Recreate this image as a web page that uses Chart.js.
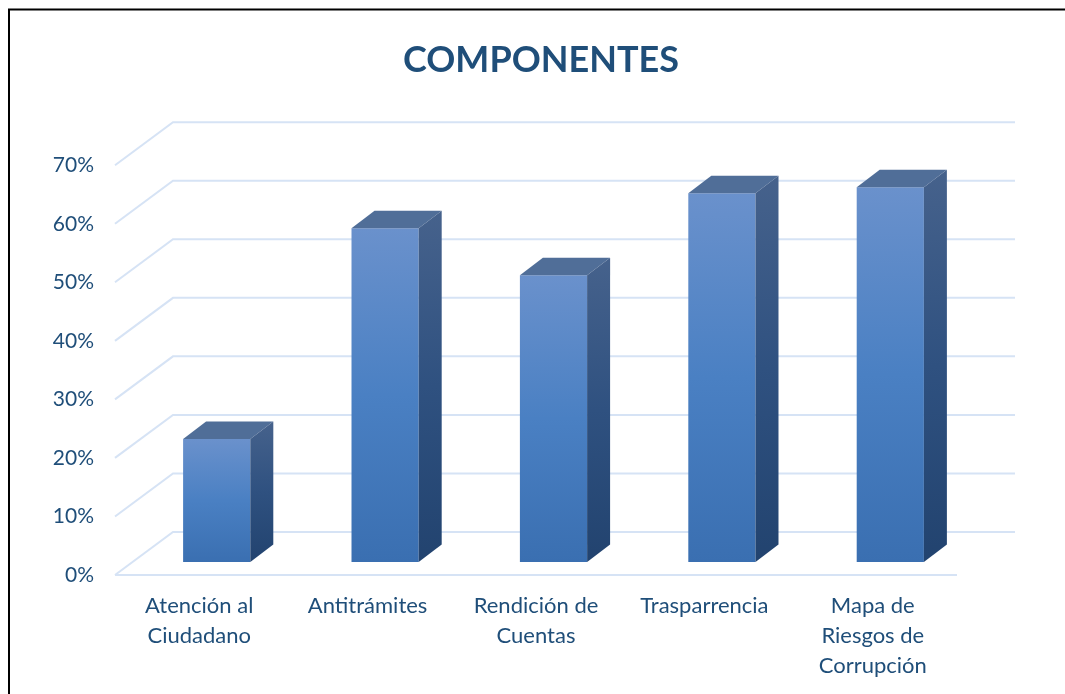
<!DOCTYPE html>
<html>
<head>
<meta charset="utf-8">
<style>html,body{margin:0;padding:0;background:#fff;overflow:hidden}canvas{display:block}</style>
<script src="https://cdn.jsdelivr.net/npm/chart.js@4/dist/chart.umd.js"></script>
</head>
<body>
<canvas id="c" width="1065" height="694"></canvas>
<script>
const categories = [["Atención al","Ciudadano"],"Antitrámites",["Rendición de","Cuentas"],"Trasparrencia",["Mapa de","Riesgos de","Corrupción"]];
const values = [0.21,0.57,0.49,0.63,0.64];
const titleText = "COMPONENTES";

const TEXT = "#1F4E79", GRID = "#D6E3F5";
const WALL = {dx:58, dy:43};      // depth of the chart floor
const BAR = {dx:23, dy:17.5, sx:17.5, sy:-13}; // bar depth and its shift from the floor front

function lin(ctx,y0,y1,stops){
  const g = ctx.createLinearGradient(0,y0,0,y1);
  stops.forEach((c,i)=>g.addColorStop(i/(stops.length-1),c));
  return g;
}

const depth3d = {
  id:"depth3d",
  afterLayout(chart){
    const t = chart.titleBlock;
    t.left = 17; t.right = 1065;
  },
  beforeDraw(chart){
    const c = chart.ctx;
    c.save();
    c.fillStyle="#fff"; c.fillRect(0,0,chart.width,chart.height);
    c.strokeStyle="#000"; c.lineWidth=2;
    c.beginPath(); c.moveTo(9,694); c.lineTo(9,9.5); c.lineTo(1065,9.5); c.stroke();
    c.restore();
  },
  beforeDatasetsDraw(chart){
    const c = chart.ctx, y = chart.scales.y, a = chart.chartArea;
    c.save();
    c.strokeStyle=GRID; c.lineWidth=2; c.lineJoin="miter";
    y.ticks.forEach(t=>{
      const p = y.getPixelForValue(t.value);
      c.beginPath();
      c.moveTo(a.left,p);
      c.lineTo(a.left+WALL.dx,p-WALL.dy);
      c.lineTo(a.right+WALL.dx,p-WALL.dy);
      c.stroke();
    });
    const p0 = y.getPixelForValue(0);
    c.beginPath(); c.moveTo(a.left,p0); c.lineTo(a.right,p0); c.stroke();
    c.restore();
  },
  beforeDatasetDraw(chart){
    chart.ctx.save();
    chart.ctx.translate(BAR.sx,BAR.sy);
  },
  afterDatasetDraw(chart,args){
    const c = chart.ctx;
    args.meta.data.forEach(b=>{
      const l=b.x-b.width/2, r=b.x+b.width/2, t=b.y, bt=b.base;
      // top face
      c.fillStyle="#506E98";
      c.beginPath(); c.moveTo(l,t); c.lineTo(l+BAR.dx,t-BAR.dy); c.lineTo(r+BAR.dx,t-BAR.dy); c.lineTo(r,t); c.closePath(); c.fill();
      // side face
      c.fillStyle=lin(c,t-BAR.dy,bt,["#46628C","#2F5180","#22436F"]);
      c.beginPath(); c.moveTo(r,t); c.lineTo(r+BAR.dx,t-BAR.dy); c.lineTo(r+BAR.dx,bt-BAR.dy); c.lineTo(r,bt); c.closePath(); c.fill();
    });
    c.restore();
  }
};

new Chart(document.getElementById("c"),{
  type:"bar",
  data:{labels:categories,datasets:[{
    data:values,
    backgroundColor(ctx){
      const ch=ctx.chart, y=ch.scales.y;
      if(!ch.chartArea||ctx.parsed==null) return "#4A7FC1";
      return lin(ch.ctx,y.getPixelForValue(ctx.parsed.y),y.getPixelForValue(0),["#6A91CC","#4A80C3","#3A6FB1"]);
    },
    borderWidth:0,
    categoryPercentage:1,
    barPercentage:0.399
  }]},
  options:{
    responsive:false,
    animation:false,
    layout:{padding:{left:0,right:108,top:0,bottom:0}},
    plugins:{
      legend:{display:false},
      tooltip:{enabled:false},
      title:{display:true,text:titleText,color:TEXT,
        font:{family:"Lato",size:36,weight:"bold",lineHeight:1.2},
        padding:{top:39,bottom:83}}
    },
    scales:{
      x:{
        grid:{display:false},border:{display:false},
        afterFit(s){s.height=119},
        ticks:{color:TEXT,font:{family:"Lato",size:22,lineHeight:1.364},padding:8,maxRotation:0,autoSkip:false}
      },
      y:{
        min:0,max:0.7,
        grid:{display:false},border:{display:false},
        afterFit(s){s.width=115},
        ticks:{stepSize:0.1,color:TEXT,font:{family:"Lato",size:21},padding:13,
          callback:v=>Math.round(v*100)+"%"}
      }
    }
  },
  plugins:[depth3d]
});
</script>
</body>
</html>
